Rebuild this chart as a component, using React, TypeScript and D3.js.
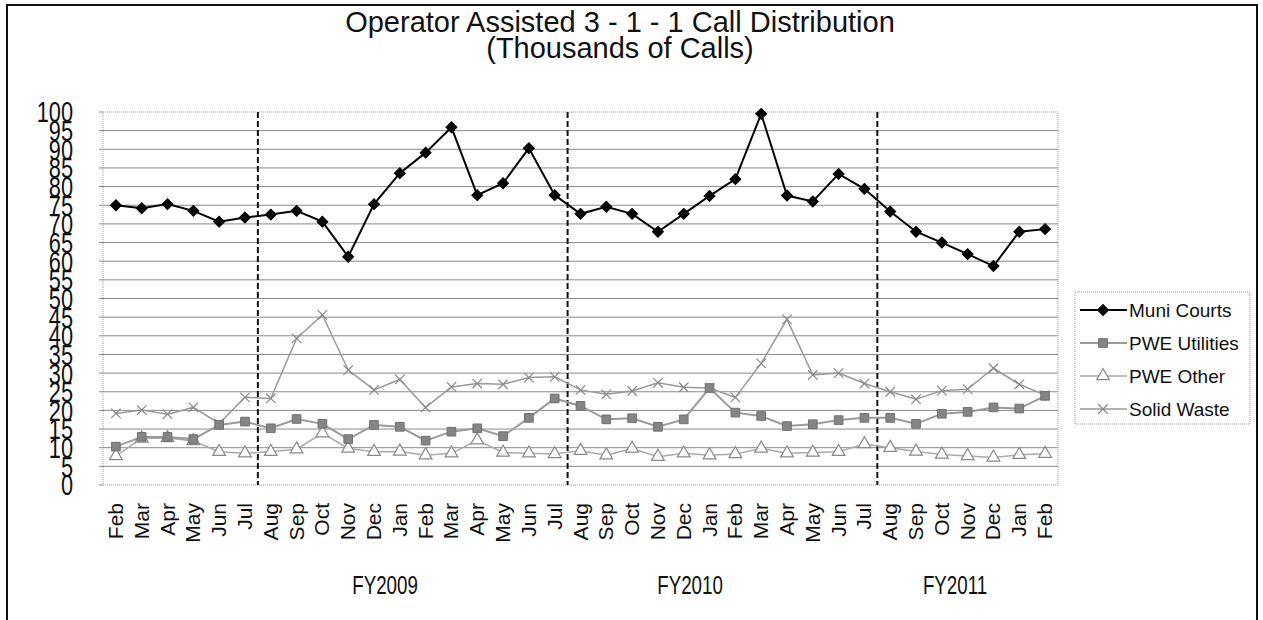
import React, { useRef, useEffect } from "react";
import * as d3 from "d3";

const months = [
  "Feb", "Mar", "Apr", "May", "Jun", "Jul",
  "Aug", "Sep", "Oct", "Nov", "Dec", "Jan", "Feb", "Mar", "Apr", "May", "Jun", "Jul",
  "Aug", "Sep", "Oct", "Nov", "Dec", "Jan", "Feb", "Mar", "Apr", "May", "Jun", "Jul",
  "Aug", "Sep", "Oct", "Nov", "Dec", "Jan", "Feb",
];

const muniCourts = [
  75.0, 74.2, 75.3, 73.5, 70.6, 71.7, 72.5, 73.5, 70.6, 61.2, 75.3, 83.6, 89.1,
  95.9, 77.7, 80.9, 90.3, 77.7, 72.7, 74.6, 72.7, 67.9, 72.7, 77.5, 82.0, 99.5,
  77.6, 76.0, 83.4, 79.4, 73.3, 67.9, 65.0, 61.9, 58.7, 67.9, 68.6,
];
const pweUtilities = [
  10.3, 12.9, 12.9, 12.3, 16.1, 17.0, 15.2, 17.7, 16.4, 12.3, 16.1, 15.6, 11.9,
  14.3, 15.2, 13.1, 18.0, 23.2, 21.2, 17.6, 17.9, 15.6, 17.6, 26.0, 19.4, 18.5,
  15.8, 16.3, 17.4, 18.0, 18.0, 16.4, 19.1, 19.6, 20.8, 20.5, 23.9,
];
const pweOther = [
  7.8, 12.5, 12.6, 11.8, 8.9, 8.5, 8.9, 9.6, 13.9, 9.8, 8.9, 9.0, 8.0, 8.5,
  12.0, 8.7, 8.5, 8.3, 9.2, 8.0, 9.8, 7.6, 8.5, 8.0, 8.3, 9.8, 8.5, 8.7, 8.9,
  11.0, 10.0, 9.0, 8.2, 7.8, 7.4, 8.1, 8.4,
];
const solidWaste = [
  19.2, 20.1, 19.0, 20.8, 16.5, 23.5, 23.2, 39.3, 45.6, 30.8, 25.5, 28.3, 20.8,
  26.3, 27.2, 27.0, 28.8, 29.0, 25.5, 24.3, 25.2, 27.4, 26.2, 26.0, 23.5, 32.6,
  44.4, 29.5, 30.0, 27.2, 25.0, 23.0, 25.3, 25.7, 31.3, 27.0, 24.1,
];

const yTicks = d3.range(0, 101, 5);
// fiscal year splits: index of first month (Aug) of each FY
const fyStarts = [6, 18, 30];
const fyLabels = ["FY2009", "FY2010", "FY2011"];
const fyLabelX = [385, 690, 955];

const FONT = "'Liberation Sans', Arial, sans-serif";

const App = () => {
  const svgRef = useRef<SVGSVGElement>(null);

  useEffect(() => {
    const svg = d3.select(svgRef.current);
    svg.selectAll("*").remove();

    const plot = { left: 103, right: 1058, top: 112, bottom: 485 };

    const x = d3
      .scaleBand<number>()
      .domain(months.map((_, i) => i))
      .range([plot.left, plot.right]);
    const xc = (i: number) => (x(i) as number) + x.bandwidth() / 2;
    const y = d3.scaleLinear().domain([0, 100]).range([plot.bottom, plot.top]);

    // outer frame
    svg
      .append("rect")
      .attr("x", 7)
      .attr("y", 5)
      .attr("width", 1250)
      .attr("height", 700)
      .attr("fill", "white")
      .attr("stroke", "#111")
      .attr("stroke-width", 2);

    // title
    const title = svg
      .append("text")
      .attr("text-anchor", "middle")
      .style("font-family", FONT)
      .style("font-size", "29px")
      .attr("fill", "#111");
    title.append("tspan").attr("x", 620).attr("y", 32).text("Operator Assisted 3 - 1 - 1 Call Distribution");
    title.append("tspan").attr("x", 620).attr("y", 58).text("(Thousands of Calls)");

    // gridlines
    svg
      .append("g")
      .selectAll("line")
      .data(yTicks.filter((t) => t > 0 && t < 100))
      .enter()
      .append("line")
      .attr("x1", plot.left)
      .attr("x2", plot.right)
      .attr("y1", (d) => y(d))
      .attr("y2", (d) => y(d))
      .attr("stroke", "#8a8a8a")
      .attr("stroke-width", 1);

    // plot border
    svg
      .append("rect")
      .attr("x", plot.left)
      .attr("y", plot.top)
      .attr("width", plot.right - plot.left)
      .attr("height", plot.bottom - plot.top)
      .attr("fill", "none")
      .attr("stroke", "#999")
      .attr("stroke-dasharray", "1,1");

    // y ticks and labels
    svg
      .append("g")
      .selectAll("line")
      .data(yTicks)
      .enter()
      .append("line")
      .attr("x1", plot.left - 4)
      .attr("x2", plot.left)
      .attr("y1", (d) => y(d))
      .attr("y2", (d) => y(d))
      .attr("stroke", "#888");

    svg
      .append("g")
      .selectAll("text")
      .data(yTicks)
      .enter()
      .append("text")
      .attr("transform", (d) => `translate(73,${y(d)}) scale(0.75,1)`)
      .attr("text-anchor", "end")
      .attr("dy", "0.36em")
      .style("font-family", FONT)
      .style("font-size", "29px")
      .attr("fill", "#111")
      .text((d) => d);

    // x labels
    svg
      .append("g")
      .selectAll("text")
      .data(months)
      .enter()
      .append("text")
      .attr("transform", (_, i) => `translate(${xc(i) + 7},503) rotate(-90)`)
      .attr("text-anchor", "end")
      .style("font-family", FONT)
      .style("font-size", "21px")
      .attr("fill", "#111")
      .text((d) => d);

    // FY labels
    svg
      .append("g")
      .selectAll("text")
      .data(fyLabels)
      .enter()
      .append("text")
      .attr("transform", (_, i) => `translate(${fyLabelX[i]},594) scale(0.75,1)`)
      .attr("text-anchor", "middle")
      .style("font-family", FONT)
      .style("font-size", "25px")
      .attr("fill", "#111")
      .text((d) => d);

    // fiscal year dividers
    svg
      .append("g")
      .selectAll("line")
      .data(fyStarts)
      .enter()
      .append("line")
      .attr("x1", (d) => x(d) as number)
      .attr("x2", (d) => x(d) as number)
      .attr("y1", plot.top)
      .attr("y2", plot.bottom)
      .attr("stroke", "#111")
      .attr("stroke-width", 2)
      .attr("stroke-dasharray", "6,3");

    const series = [
      { name: "Muni Courts", values: muniCourts, color: "#000", width: 2, symbol: "diamond" },
      { name: "PWE Utilities", values: pweUtilities, color: "#9a9a9a", width: 2, symbol: "square" },
      { name: "PWE Other", values: pweOther, color: "#aaa", width: 1.5, symbol: "triangle" },
      { name: "Solid Waste", values: solidWaste, color: "#999", width: 1.5, symbol: "x" },
    ];

    const markerPath = (sym: string) => {
      if (sym === "diamond") return d3.symbol(d3.symbolSquare, 60)();
      if (sym === "square") return d3.symbol(d3.symbolSquare, 75)();
      if (sym === "triangle") return d3.symbol(d3.symbolTriangle, 70)();
      return d3.symbol(d3.symbolX, 60)();
    };
    const styleMarker = (sel: any, s: any) => {
      if (s.symbol === "diamond") {
        sel.attr("fill", "#000").attr("stroke", "#000");
      } else if (s.symbol === "square") {
        sel.attr("fill", "#858585").attr("stroke", "#707070").attr("stroke-width", 1);
      } else if (s.symbol === "triangle") {
        sel.attr("fill", "white").attr("stroke", "#888").attr("stroke-width", 1.2);
      } else {
        sel.attr("fill", "none").attr("stroke", "#888").attr("stroke-width", 1.2);
      }
    };
    const markerTransform = (s: any, px: number, py: number) =>
      s.symbol === "diamond" ? `translate(${px},${py}) rotate(45)` : `translate(${px},${py})`;

    const line = d3
      .line<number>()
      .x((_, i) => xc(i))
      .y((d) => y(d));

    // draw in reverse so Muni Courts sits on top
    [...series].reverse().forEach((s) => {
      const g = svg.append("g");
      g.append("path")
        .attr("d", line(s.values))
        .attr("fill", "none")
        .attr("stroke", s.color)
        .attr("stroke-width", s.width);
      g.selectAll("path.m")
        .data(s.values)
        .enter()
        .append("path")
        .attr("class", "m")
        .attr("d", markerPath(s.symbol))
        .attr("transform", (d, i) => markerTransform(s, xc(i), y(d)))
        .call(styleMarker, s);
    });

    // legend
    const lg = svg.append("g");
    lg.append("rect")
      .attr("x", 1075)
      .attr("y", 292)
      .attr("width", 175)
      .attr("height", 132)
      .attr("fill", "white")
      .attr("stroke", "#999")
      .attr("stroke-dasharray", "1,1");
    series.forEach((s, i) => {
      const ly = 310 + i * 33;
      lg.append("line")
        .attr("x1", 1080)
        .attr("x2", 1127)
        .attr("y1", ly)
        .attr("y2", ly)
        .attr("stroke", s.color)
        .attr("stroke-width", s.width);
      lg.append("path")
        .attr("d", markerPath(s.symbol))
        .attr("transform", markerTransform(s, 1103, ly))
        .call(styleMarker, s);
      lg.append("text")
        .attr("x", 1129)
        .attr("y", ly)
        .attr("dy", "0.36em")
        .style("font-family", FONT)
        .style("font-size", "19px")
        .attr("fill", "#111")
        .text(s.name);
    });
  }, []);

  return (
    <svg
      ref={svgRef}
      width={1263}
      height={620}
      style={{ position: "absolute", left: 0, top: 0, background: "white" }}
    ></svg>
  );
};

export default App;
